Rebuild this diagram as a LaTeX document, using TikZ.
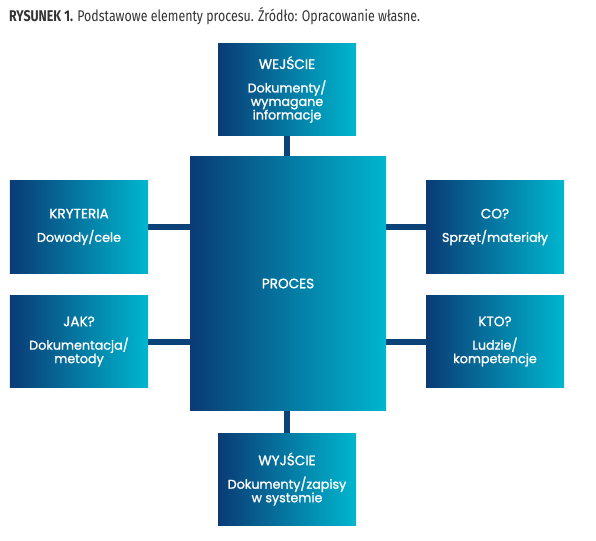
\documentclass[tikz,border=0pt]{standalone}
\usepackage{fontspec}
\setmainfont{Fira Sans}
\newfontfamily\titlefont[FakeStretch=0.8]{Fira Sans}
\newfontfamily\boxfont[FakeBold=1.3]{Poppins}
\usetikzlibrary{backgrounds}
\definecolor{navy}{HTML}{0A3B75}
\definecolor{cyanb}{HTML}{00B6CF}
\definecolor{linkc}{HTML}{0B4379}
\definecolor{titlec}{HTML}{333333}
\tikzset{
  box/.style={left color=navy, right color=cyanb, draw=none, minimum width=138bp, minimum height=92bp,
    align=center, text=white, inner sep=0pt, font=\boxfont\fontsize{12.7bp}{13.5bp}\selectfont},
  bigbox/.style={box, minimum width=196bp, minimum height=253bp},
  link/.style={draw=linkc, line width=6bp}
}
\newcommand{\hfont}{\fontsize{13.6bp}{13.5bp}\selectfont}
\newcommand{\hd}[2]{{\hfont #1}\\[10bp]#2}
\begin{document}
\begin{tikzpicture}[x=1bp,y=-1bp]
\useasboundingbox (0,0) rectangle (596,541);
\node[anchor=base west, text=titlec, inner sep=0pt, font=\titlefont\fontsize{15.5bp}{17bp}\selectfont] (title) at (9,21.5)
  {\textbf{RYSUNEK 1.} Podstawowe elementy procesu. Źródło: Opracowanie własne.};
\node[bigbox, font=\boxfont\hfont] (proc) at (288,283.5) {PROCES};
\node[box] (in) at (287,89.5) {\hd{WEJŚCIE}{Dokumenty/\\wymagane\\informacje}};
\node[box] (out) at (287,479) {\hd{WYJŚCIE}{Dokumenty/zapisy\\w systemie}};
\node[box] (kry) at (79,227) {\hd{KRYTERIA}{Dowody/cele}};
\node[box] (jak) at (79,341.5) {\hd{JAK?}{Dokumentacja/\\metody}};
\node[box] (co) at (495,227) {\hd{CO?}{Sprzęt/materiały}};
\node[box] (kto) at (495,341.5) {\hd{KTO?}{Ludzie/\\kompetencje}};
\begin{scope}[on background layer]
\draw[link] (in) -- (in |- proc.north);
\draw[link] (out) -- (out |- proc.south);
\draw[link] (kry) -- (kry -| proc.center);
\draw[link] (jak) -- (jak -| proc.center);
\draw[link] (co) -- (co -| proc.center);
\draw[link] (kto) -- (kto -| proc.center);
\end{scope}
\end{tikzpicture}
\end{document}
